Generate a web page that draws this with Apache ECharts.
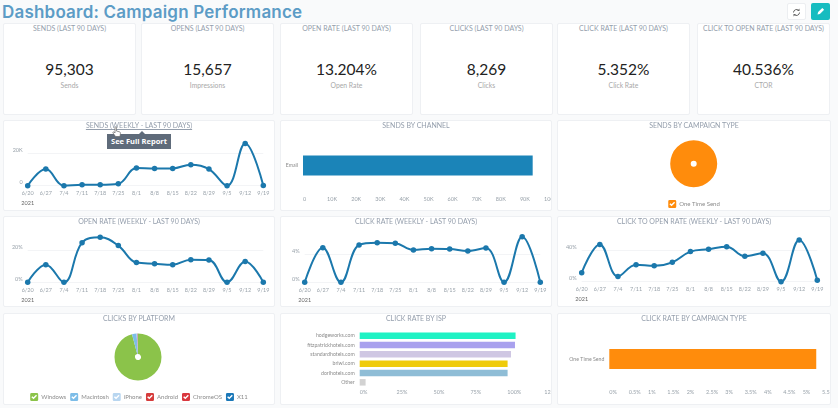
<!DOCTYPE html>
<html>
<head>
<meta charset="utf-8">
<title>Dashboard: Campaign Performance</title>
<script src="https://cdn.jsdelivr.net/npm/echarts@6/dist/echarts.min.js"></script>
<style>
  html, body { margin: 0; padding: 0; width: 838px; height: 408px; overflow: hidden; background: #f9fafb; font-family: Lato, sans-serif; }
  h1 { position: absolute; left: 2px; top: 0; margin: 0; font: 600 17px/24px Inter, sans-serif; letter-spacing: 0.2px; color: #5c9cc6; }
  .card { position: absolute; background: #fff; border: 1px solid #eef0f3; border-radius: 2px; box-sizing: border-box; overflow: hidden; }
  .card .title { position: absolute; left: 0; right: 0; top: 0; text-align: center; font-size: 7px; line-height: 9px; color: #949eac; white-space: nowrap; z-index: 2; }
  .card .chart { position: absolute; left: -1px; top: -1px; }
  .kpi-value { position: absolute; left: 0; right: 0; top: 36px; text-align: center; font-size: 15.5px; line-height: 18px; color: #222; }
  .kpi-label { position: absolute; left: 0; right: 0; top: 57px; text-align: center; font-size: 6.8px; line-height: 9px; color: #a8a8a8; }
  .btn { position: absolute; top: 3px; width: 19px; height: 17px; border-radius: 2px; box-sizing: border-box; }
  #refresh { left: 787px; background: #fff; border: 1px solid #eceef1; }
  #edit { left: 811px; background: #17bcc0; }
  #tip { position: absolute; left: 107px; top: 134px; width: 64px; height: 15px; background: #5f6b7a; color: #fff; font: bold 7.5px/15px "Open Sans", sans-serif; text-align: center; z-index: 5; }
  #tip:before { content: ""; position: absolute; left: 32px; top: -3px; border: 3px solid transparent; border-top: 0; border-bottom-color: #5f6b7a; }
  #cursor { position: absolute; left: 112px; top: 126px; z-index: 6; }
</style>
</head>
<body>
<h1>Dashboard: Campaign Performance</h1>
<div class="btn" id="refresh"><svg width="17" height="15" viewBox="0 0 17 15"><path d="M5.5 7.5a3 3 0 0 1 5-2.2M11.5 7.5a3 3 0 0 1-5 2.2" fill="none" stroke="#666" stroke-width="1"/><path d="M11.5 3.5v2.5H9zM5.5 11.5V9H8z" fill="#666"/></svg></div>
<div class="btn" id="edit"><svg width="19" height="17" viewBox="0 0 19 17"><path d="M6.5 11.5l.6-2.4 4.2-4.2 1.8 1.8-4.2 4.2z" fill="#fff"/></svg></div>
<div id="tip">See Full Report</div>
<svg id="cursor" width="10" height="12" viewBox="0 0 10 12"><path d="M3 1.5c0-1 1.4-1 1.4 0V5l3 .8c1 .3 1.2 1 1 2L8 10.500H3.500L1 7c-.5-.8.4-1.500 1.100-.9L3 7z" fill="#fff" stroke="#666" stroke-width="0.7"/></svg>

<script>
// KPI tiles
const kpiTitles = ['SENDS (LAST 90 DAYS)', 'OPENS (LAST 90 DAYS)', 'OPEN RATE (LAST 90 DAYS)', 'CLICKS (LAST 90 DAYS)', 'CLICK RATE (LAST 90 DAYS)', 'CLICK TO OPEN RATE (LAST 90 DAYS)'];
const kpiValues = ['95,303', '15,657', '13.204%', '8,269', '5.352%', '40.536%'];
const kpiLabels = ['Sends', 'Impressions', 'Open Rate', 'Clicks', 'Click Rate', 'CTOR'];

// Weekly line charts
const weeks = ['6/20', '6/27', '7/4', '7/11', '7/18', '7/25', '8/1', '8/8', '8/15', '8/22', '8/29', '9/5', '9/12', '9/19'];
const weeklySends = [0, 10300, 0, 600, 600, 1200, 10900, 10700, 10700, 13000, 10300, 0, 26200, 100];
const weeklyOpenRate = [0, 10.9, 0, 24.5, 27.8, 22.7, 12.2, 11.5, 10.9, 14, 13.8, 0, 12.8, 0];
const weeklyClickRate = [0, 5.0, 0, 5.4, 5.73, 5.64, 4.67, 4.87, 4.82, 4.53, 4.96, 0, 6.6, 0];
const weeklyCtor = [11.4, 47, 6.7, 21.5, 20, 24.4, 38, 41, 44, 32, 36, 0, 52.6, 1.7];

// Bars
const channels = ['Email'];
const channelSends = [95303];
const ispNames = ['hodgeworks.com', 'fitzpatrickhotels.com', 'standardhotels.com', 'briwl.com', 'dorihotels.com', 'Other'];
const ispClickRate = [105.6, 105.2, 102.5, 100.2, 100.2, 4];
const ispColors = ['#1ff2c4', '#a9a1ee', '#cfc7e3', '#efcb0c', '#8fbdd6', '#d2d2d2'];
const campaignTypes = ['One Time Send'];
const campaignSends = [95303];
const campaignClickRate = [5.352];

// Pie
const platforms = ['Windows', 'Macintosh', 'iPhone', 'Android', 'ChromeOS', 'X11'];
const platformClicks = [7930, 260, 50, 15, 9, 5];
const platformColors = ['#8bc34a', '#7dbde8', '#b8d6f0', '#d63c3c', '#d9383f', '#1b78b8'];

const checkIcon = 'path://M4 0H20A4 4 0 0 1 24 4V20A4 4 0 0 1 20 24H4A4 4 0 0 1 0 20V4A4 4 0 0 1 4 0ZM10 19L20.500 8.500L17.500 5.500L10 13L6.500 9.500L3.500 12.500Z';
const labelColor = '#9aa3ab';
const fontFamily = 'Lato, sans-serif';
const lineColor = '#1b78ac';

function addCard(x, y, w, h, title, titleStyle) {
    const card = document.createElement('div');
    card.className = 'card';
    card.style.cssText = `left:${x}px;top:${y}px;width:${w}px;height:${h}px`;
    const head = document.createElement('div');
    head.className = 'title';
    head.textContent = title;
    if (titleStyle) head.style.cssText = titleStyle;
    card.appendChild(head);
    document.body.appendChild(card);
    return card;
}

function addChart(x, y, w, h, title, option, titleStyle) {
    const card = addCard(x, y, w, h, title, titleStyle);
    const dom = document.createElement('div');
    dom.className = 'chart';
    dom.style.width = w + 'px';
    dom.style.height = h + 'px';
    card.appendChild(dom);
    const chart = echarts.init(dom, null, { renderer: 'canvas' });
    option.animation = false;
    chart.setOption(option);
    return chart;
}

// weekly smoothed line; height is the pixel height of the plot, zero sits at zeroY
function lineOption(values, max, interval, height, zeroY, fmt) {
    return {
        grid: { left: 24.7, width: 235.6, top: zeroY - height, height: height, outerBoundsMode: 'none' },
        xAxis: {
            type: 'category',
            data: weeks,
            boundaryGap: false,
            axisLine: { show: false },
            axisTick: { show: false },
            axisLabel: {
                interval: 0,
                margin: 4,
                fontSize: 5.5,
                fontFamily: fontFamily,
                color: labelColor,
                lineHeight: 8,
                hideOverlap: false,
                formatter: (v, i) => i === 0 ? `${v}\n{year|2021}` : v,
                rich: { year: { fontSize: 5.5, fontFamily: fontFamily, color: '#666', lineHeight: 11 } }
            }
        },
        yAxis: {
            type: 'value',
            min: 0,
            max: max,
            interval: interval,
            axisLine: { show: false },
            axisTick: { show: false },
            splitLine: { showMaxLine: false, lineStyle: { color: '#f3f4f6', width: 1 } },
            axisLabel: {
                showMaxLabel: false,
                margin: 5,
                fontSize: 5.5,
                fontFamily: fontFamily,
                color: labelColor,
                verticalAlign: 'bottom',
                formatter: fmt
            }
        },
        series: [{
            type: 'line',
            data: values,
            smooth: 0.4,
            clip: false,
            symbol: 'circle',
            symbolSize: 5.5,
            lineStyle: { color: lineColor, width: 2 },
            itemStyle: { color: lineColor }
        }]
    };
}

// horizontal bars, the value labels start at their tick as in the source dashboard
function barOption(cats, values, colors, left, width, top, height, barWidth, max, interval, fmt, margin) {
    return {
        grid: { left: left, width: width, top: top, height: height, outerBoundsMode: 'none' },
        xAxis: {
            type: 'value',
            min: 0,
            max: max,
            interval: interval,
            axisLine: { show: false },
            axisTick: { show: false },
            splitLine: { show: false },
            axisLabel: {
                align: 'left',
                hideOverlap: false,
                margin: margin,
                fontSize: 5.5,
                fontFamily: fontFamily,
                color: labelColor,
                formatter: fmt
            }
        },
        yAxis: {
            type: 'category',
            data: cats,
            inverse: true,
            axisLine: { show: false },
            axisTick: { show: false },
            axisLabel: { interval: 0, margin: 5, fontSize: 5.2, fontFamily: fontFamily, color: '#8b8b8b' }
        },
        series: [{
            type: 'bar',
            barWidth: barWidth,
            data: values.map((v, i) => ({ value: v, itemStyle: { color: colors[i] } }))
        }]
    };
}

function pieOption(names, values, colors, cx, cy) {
    return {
        color: colors,
        legend: {
            data: names,
            top: 80,
            left: 'center',
            padding: 0,
            icon: checkIcon,
            itemWidth: 8,
            itemHeight: 8,
            itemGap: 4,
            textStyle: { fontSize: 6, fontFamily: fontFamily, color: '#8b8b8b', padding: [0, 0, 0, -2] }
        },
        series: [{
            type: 'pie',
            radius: [3, 23.5],
            center: [cx, cy],
            startAngle: 90,
            label: { show: false },
            labelLine: { show: false },
            data: names.map((n, i) => ({ name: n, value: values[i] }))
        }]
    };
}

const kFmt = v => v === 0 ? '0' : (v / 1000) + 'K';
const pctFmt = v => v + '%';

// row 1, the number tiles
const kpiX = [3, 141, 280, 420, 557, 697];
kpiTitles.forEach((title, i) => {
    const card = addCard(kpiX[i], 23, 133, 92, title);
    const value = document.createElement('div');
    value.className = 'kpi-value';
    value.textContent = kpiValues[i];
    const label = document.createElement('div');
    label.className = 'kpi-label';
    label.textContent = kpiLabels[i];
    card.appendChild(value);
    card.appendChild(label);
});

// row 2
addChart(3, 120, 272, 91, 'SENDS (WEEKLY - LAST 90 DAYS)',
    lineOption(weeklySends, 40000, 20000, 64.6, 65.7, kFmt), 'text-decoration:underline');
addChart(280, 120, 272, 91, 'SENDS BY CHANNEL',
    barOption(channels, channelSends, ['#1b84b8'], 23, 241, 18, 55, 20, 100000, 10000, kFmt, 3));
addChart(557, 120, 274, 91, 'SENDS BY CAMPAIGN TYPE',
    pieOption(campaignTypes, campaignSends, ['#ff8c0c'], 136.7, 43.7));

// row 3
addChart(3, 216, 272, 91, 'OPEN RATE (WEEKLY - LAST 90 DAYS)',
    lineOption(weeklyOpenRate, 40, 20, 64.7, 66.3, pctFmt));
addChart(280, 216, 272, 91, 'CLICK RATE (WEEKLY - LAST 90 DAYS)',
    lineOption(weeklyClickRate, 8, 4, 55.3, 66.3, pctFmt));
addChart(557, 216, 274, 91, 'CLICK TO OPEN RATE (WEEKLY - LAST 90 DAYS)',
    lineOption(weeklyCtor, 80, 40, 63.4, 65.7, pctFmt));

// row 4
addChart(3, 313, 272, 92, 'CLICKS BY PLATFORM',
    pieOption(platforms, platformClicks, platformColors, 135, 44));
addChart(280, 313, 272, 92, 'CLICK RATE BY ISP',
    barOption(ispNames, ispClickRate, ispColors, 79.7, 184.5, 18, 56, 6.5, 125, 25, pctFmt, 2));
addChart(557, 313, 274, 92, 'CLICK RATE BY CAMPAIGN TYPE',
    barOption(campaignTypes, campaignClickRate, ['#ff8c0c'], 52.3, 232, 21, 50, 20, 6, 0.5, pctFmt, 5));
</script>
</body>
</html>
